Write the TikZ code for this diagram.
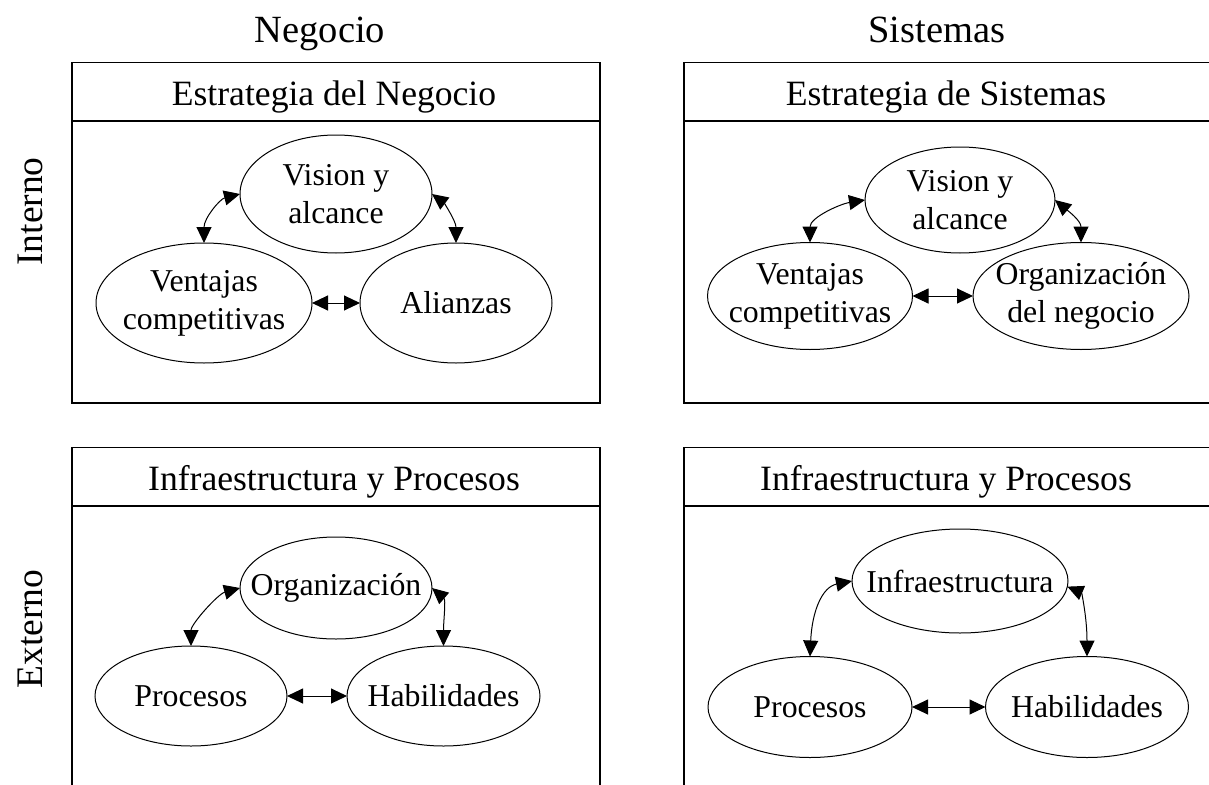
\documentclass[tikz,border=0pt]{standalone}
\usepackage{fontspec}
\setmainfont{Liberation Serif}
\usetikzlibrary{shapes.geometric,arrows.meta}
\begin{document}
\begin{tikzpicture}[x=1pt,y=-1pt,
  frame/.style={draw=black, line width=1.6pt},
  oval/.style={ellipse, draw=black, line width=1pt, inner sep=0pt, outer sep=0pt},
  otext/.style={align=center, inner sep=0pt, font=\fontsize{31.8}{38}\selectfont},
  head/.style={anchor=base, inner sep=0pt, font=\fontsize{35.6}{40}\selectfont},
  axislbl/.style={anchor=base, inner sep=0pt, font=\fontsize{38.5}{44}\selectfont},
  sidelbl/.style={anchor=base, inner sep=0pt, rotate=90, font=\fontsize{37.5}{44}\selectfont},
  link/.style={line width=1pt, >={Triangle[length=16pt 0 0,width=15pt 0 0]}, <->}
]
\useasboundingbox (0,0) rectangle (1209,784);
\clip (0,0) rectangle (1209,784);
\fill[white] (0,0) rectangle (1209,784);

% column and row titles
\node[axislbl] (negocio) at (320,42.5) {Negocio};
\node[axislbl] (sistemas) at (937,42.5) {Sistemas};
\node[sidelbl] (interno) at (42,211.5) {Interno};
\node[sidelbl] (externo) at (42,629) {Externo};

% frames with their title bars
\draw[frame] (72,62.7) rectangle (600,402.7);
\draw[frame] (72,121) -- (600,121);
\draw[frame] (684,62.7) rectangle (1212,402.7);
\draw[frame] (684,121) -- (1212,121);
\draw[frame] (72,447.3) rectangle (600,840);
\draw[frame] (72,506) -- (600,506);
\draw[frame] (684,447.3) rectangle (1212,840);
\draw[frame] (684,506) -- (1212,506);

\node[head] (h1) at (334,105) {Estrategia del Negocio};
\node[head] (h2) at (946,105) {Estrategia de Sistemas};
\node[head] (h3) at (334,490) {Infraestructura y Procesos};
\node[head] (h4) at (946,490) {Infraestructura y Procesos};

% business strategy
\node[oval, minimum width=192pt, minimum height=118pt] (vis1) at (336,194) {};
\node[oval, minimum width=216pt, minimum height=120pt] (ven1) at (204,303) {};
\node[oval, minimum width=192pt, minimum height=120pt] (ali1) at (456,303) {};
\node[otext] (vis1t) at (vis1.center) {Vision y\\alcance};
\node[otext] (ven1t) at (ven1.center) {Ventajas\\competitivas};
\node[otext] (ali1t) at (ali1.center) {Alianzas};
\draw[link] (ven1.north) .. controls +(0,-25) and +(-20,5) .. (vis1.west);
\draw[link] (vis1.east) .. controls +(12,9) and +(0,-22) .. (ali1.north);
\draw[link] (ven1.east) -- (ali1.west);

% systems strategy
\node[oval, minimum width=190pt, minimum height=106pt] (vis2) at (960,200) {};
\node[oval, minimum width=205pt, minimum height=107pt] (ven2) at (810,296) {};
\node[oval, minimum width=216pt, minimum height=107pt] (org2) at (1081,296) {};
\node[otext] (vis2t) at (vis2.center) {Vision y\\alcance};
\node[otext] (ven2t) at (ven2.center) {Ventajas\\competitivas};
\node[otext] (org2t) at (org2.center) {Organización\\del negocio};
\draw[link] (ven2.north) .. controls +(0,-25) and +(-25,4) .. (vis2.west);
\draw[link] (vis2.east) .. controls +(12,10) and +(0,-22) .. (org2.north);
\draw[link] (ven2.east) -- (org2.west);

% business infrastructure
\node[oval, minimum width=192pt, minimum height=102pt] (org3) at (336,588) {};
\node[oval, minimum width=192pt, minimum height=100pt] (pro3) at (191,696) {};
\node[oval, minimum width=193pt, minimum height=100pt] (hab3) at (443.5,696) {};
\node[otext] (org3t) at (org3.center) {Organización};
\node[otext] (pro3t) at (pro3.center) {Procesos};
\node[otext] (hab3t) at (hab3.center) {Habilidades};
\draw[link] (pro3.north) .. controls +(0,-22) and +(-22,6) .. (org3.west);
\draw[link] (org3.east) .. controls +(14,12) and +(0,-25) .. (hab3.north);
\draw[link] (pro3.east) -- (hab3.west);

% systems infrastructure
\node[oval, minimum width=216pt, minimum height=104pt] (inf4) at (960,581) {};
\node[oval, minimum width=204pt, minimum height=101pt] (pro4) at (810,707) {};
\node[oval, minimum width=203pt, minimum height=101pt] (hab4) at (1087,707) {};
\node[otext] (inf4t) at (inf4.center) {Infraestructura};
\node[otext] (pro4t) at (pro4.center) {Procesos};
\node[otext] (hab4t) at (hab4.center) {Habilidades};
\draw[link] (pro4.north) .. controls +(2,-45) and +(-30,6) .. (inf4.west);
\draw[link] (inf4.-3) .. controls +(14,6) and +(0,-40) .. (hab4.north);
\draw[link] (pro4.east) -- (hab4.west);
\end{tikzpicture}
\end{document}
